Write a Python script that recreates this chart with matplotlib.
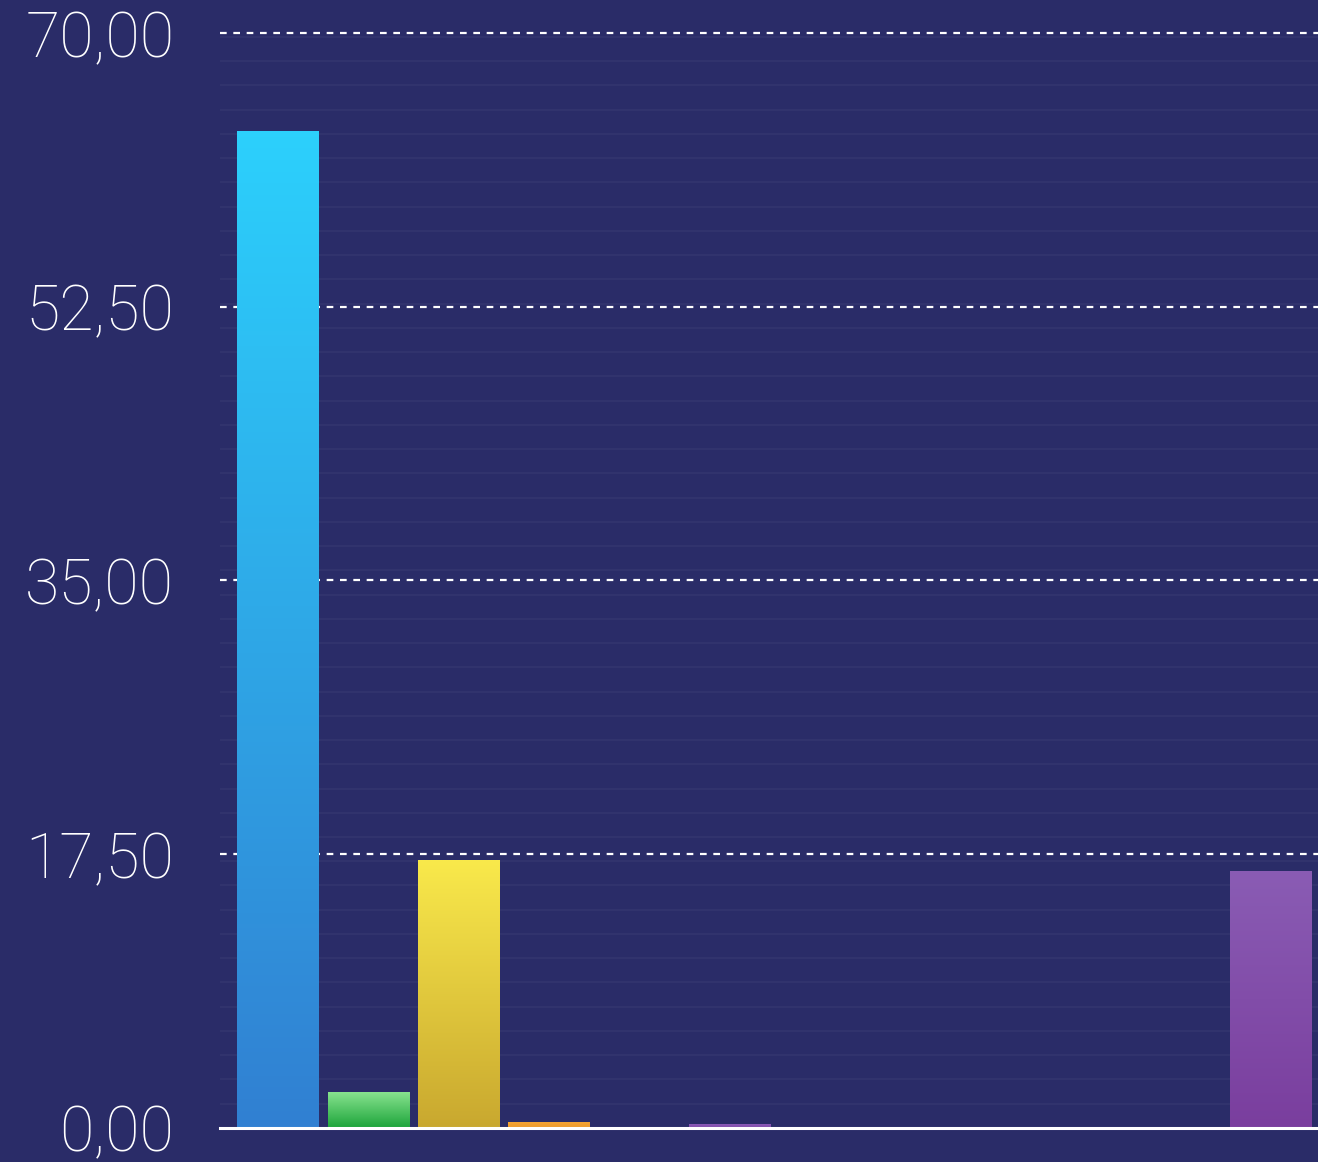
import numpy as np
import matplotlib.pyplot as plt
from matplotlib.colors import LinearSegmentedColormap

# valori (12 categorie, alcune vuote)
categories = list(range(12))
values = [63.7, 2.3, 17.1, 0.38, 0.0, 0.25, 0.0, 0.0, 0.0, 0.0, 0.0, 16.4]
top_colors = ["#2cd0fc", "#88e38f", "#f9e94b", "#f5a432", "#000000", "#8c5cb8",
              "#000000", "#000000", "#000000", "#000000", "#000000", "#8a5cb4"]
bottom_colors = ["#3180d2", "#1ca43a", "#c9a82f", "#ee9a2a", "#000000", "#7d48a8",
                 "#000000", "#000000", "#000000", "#000000", "#000000", "#7a3e9e"]
yticks = [0, 17.5, 35, 52.5, 70]
ytick_labels = ["0,00", "17,50", "35,00", "52,50", "70,00"]

bg = "#2a2c68"
fig = plt.figure(figsize=(13.18, 11.62), dpi=100, facecolor=bg)
ax = fig.add_axes([0.167, 0.0293, 0.833, 0.9423])
ax.set_facecolor(bg)

# leggere righe orizzontali di sfondo
for yy in np.arange(0, 75, 1.55):
    ax.axhline(yy, color="#ffffff", alpha=0.045, lw=1.2, zorder=0)

ax.set_xlim(-0.64, 11.52)
ax.set_ylim(0, 70)

width = 0.9
grad = np.linspace(1, 0, 256).reshape(-1, 1)
for i, v in zip(categories, values):
    if v <= 0:
        continue
    cmap = LinearSegmentedColormap.from_list("g%d" % i, [bottom_colors[i], top_colors[i]])
    ax.imshow(grad, cmap=cmap, extent=(i - width / 2, i + width / 2, 0, v),
              aspect="auto", zorder=3, interpolation="bilinear")

for y in yticks[1:]:
    ax.axhline(y, color="white", lw=1.6, ls=(0, (3, 3)), zorder=2, clip_on=False)
ax.axhline(0, color="white", lw=2.2, zorder=4, clip_on=False)

ax.set_yticks(yticks)
ax.set_yticklabels(ytick_labels, fontsize=45, color="white",
                   fontfamily=["Roboto", "DejaVu Sans"], fontweight="light")
ax.tick_params(axis="y", length=0, pad=33)
ax.set_xticks([])
for s in ax.spines.values():
    s.set_visible(False)

fig.savefig("out.png", dpi=100, facecolor=bg)
